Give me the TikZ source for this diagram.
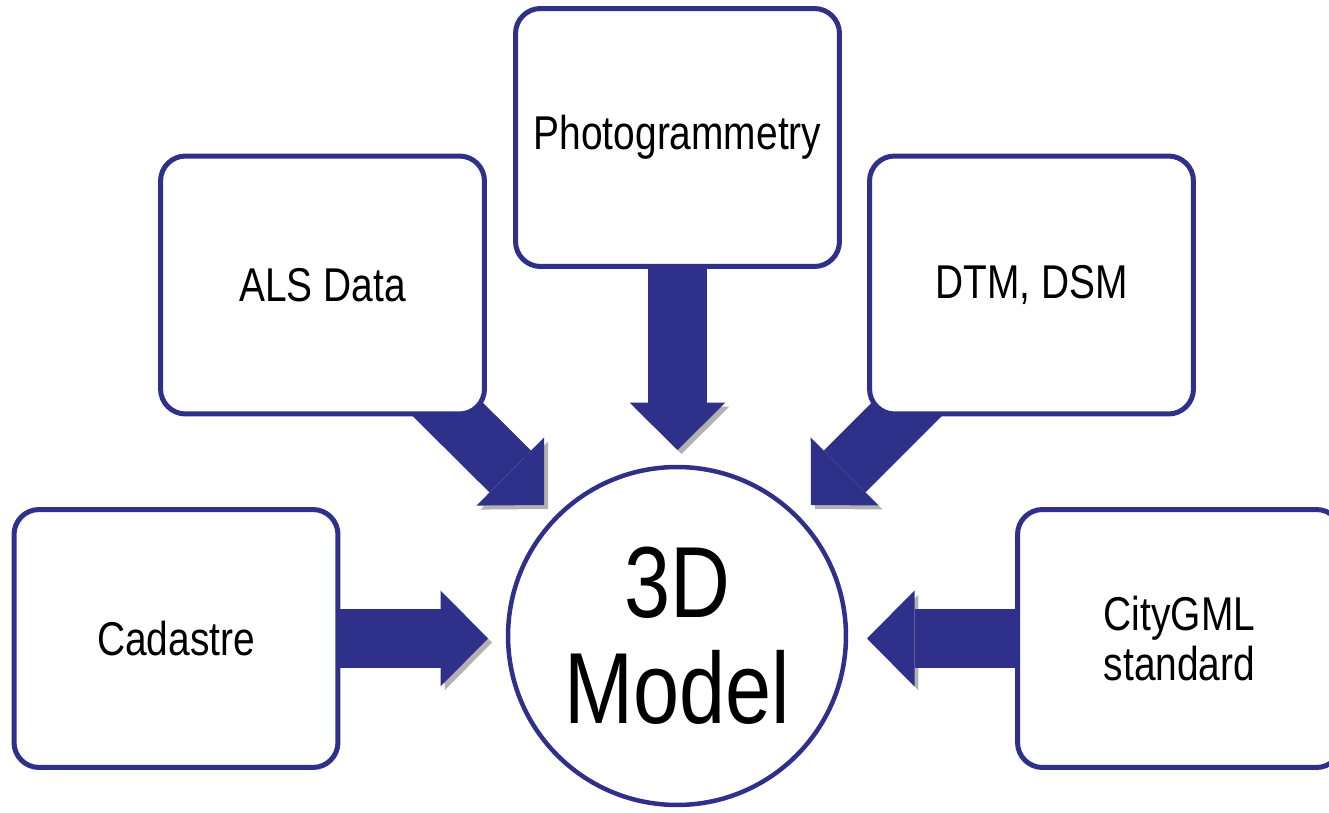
\documentclass[tikz,border=0pt]{standalone}
\usepackage{fontspec}
\setmainfont{Liberation Sans}[FakeStretch=0.82]
\usetikzlibrary{arrows.meta}
\definecolor{modelblue}{RGB}{46,48,138}
\pgfdeclarelayer{background}
\pgfsetlayers{background,main}
\tikzset{
  box_/.style   = {shape=rectangle, draw=modelblue, fill=white, line width=0.1cm,
                   rounded corners=0.5cm, minimum width=6.48cm, minimum height=5.16cm,
                   inner sep=0pt, align=center, font=\fontsize{27}{28.5}\selectfont},
  hub_/.style   = {shape=circle, draw=modelblue, fill=white, line width=0.09cm,
                   minimum size=6.76cm, inner sep=0pt, align=center,
                   font=\fontsize{57.5}{60.3}\selectfont},
  arrow_/.style = {draw=modelblue, line width=1.18cm,
                   -{Triangle[length=0.95cm, width=1.92cm, line width=0pt]},
                   preaction={draw=black!30, transform canvas={shift={(0.08cm,-0.08cm)}}}}
}
\begin{document}
\begin{tikzpicture}[x=0.02cm, y=-0.02cm]
		\useasboundingbox (0,0) rectangle (1329,813);
		\node [box_] (photo) at (677.5,137.5) {Photogrammetry};
		\node [box_] (als)   at (322.5,285)   {ALS Data};
		\node [box_] (dtm)   at (1031.5,285)  {DTM, DSM};
		\node [box_] (cad)   at (176,638.5)   {Cadastre};
		\node [box_] (city)  at (1179.5,638.5) {CityGML\\standard};
		\node [hub_] (model) at (677,636)     {3D\\Model};
		\coordinate (photo_tip) at (677.5,450);
		\coordinate (als_tip)   at (544,505);
		\coordinate (dtm_tip)   at (811,505);
		\coordinate (cad_tip)   at (488,638.5);
		\coordinate (city_tip)  at (867,638.5);
		\begin{pgfonlayer}{background}
			\foreach \src in {photo, als, dtm, cad, city}
				\draw [arrow_] (\src.center) -- (\src_tip);
		\end{pgfonlayer}
\end{tikzpicture}
\end{document}
